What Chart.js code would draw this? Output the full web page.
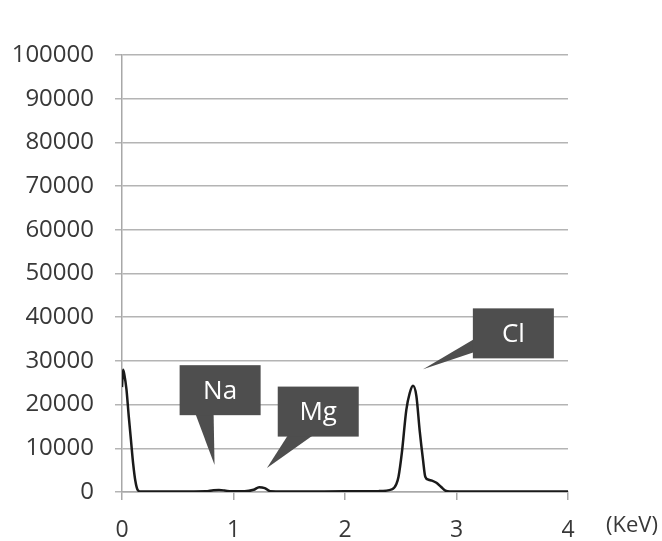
<!DOCTYPE html>
<html>
<head>
<meta charset="utf-8">
<script src="https://cdn.jsdelivr.net/npm/chart.js@4/dist/chart.umd.min.js"></script>
<style>
  body { margin: 0; background: #fff; }
</style>
</head>
<body>
<canvas id="chart-eds" width="662" height="541"></canvas>
<script>
// Spectrum: energy (keV) and counts
const energy = [0, 0.01, 0.02, 0.04, 0.06, 0.08, 0.10, 0.12, 0.14, 0.17, 0.5, 0.75, 0.82, 0.87, 0.92, 0.98, 1.1, 1.18, 1.23, 1.28, 1.33, 1.6, 2.0, 2.3, 2.42, 2.46, 2.48, 2.51, 2.55, 2.58, 2.61, 2.64, 2.67, 2.70, 2.72, 2.75, 2.78, 2.82, 2.86, 2.90, 2.94, 3.0, 3.5, 4.0];
const counts = [24000, 28000, 27000, 23500, 17500, 12000, 6500, 2500, 500, 100, 100, 150, 400, 450, 350, 150, 150, 500, 1100, 900, 200, 100, 150, 200, 600, 1800, 3500, 9000, 18800, 22600, 24300, 22000, 14000, 7300, 3500, 2800, 2600, 2100, 1200, 300, 100, 100, 100, 100];

// Axis ticks
const xTicks = [0, 1, 2, 3, 4];
const yTicks = [0, 10000, 20000, 30000, 40000, 50000, 60000, 70000, 80000, 90000, 100000];

// Peak callouts: label, tip point and box centre in data units
const peakLabels = ["Na", "Mg", "Cl"];
const tipEnergy = [0.83, 1.30, 2.70];
const tipCounts = [6200, 5500, 28100];
const boxEnergy = [0.88, 1.76, 3.51];
const boxCounts = [23300, 18400, 36300];

// Callout styling (tail base side and offsets in px from box corner)
const calloutStyle = [
  { side: "bottom", a: 16, b: 34 },
  { side: "bottom", a: 10, b: 35 },
  { side: "left", a: 31, b: 44 }
];
const BOX_W = 81, BOX_H = 50;
const TEXT_COLOR = "#383838";
const FONT = "'Open Sans', sans-serif";

// --- Plugin for callouts and unit label ---
const calloutPlugin = {
  id: "callouts",
  afterDatasetsDraw(chart) {
    const ctx = chart.ctx;
    const xs = chart.scales.x, ys = chart.scales.y;
    ctx.save();
    peakLabels.forEach((txt, i) => {
      const cx = xs.getPixelForValue(boxEnergy[i]);
      const cy = ys.getPixelForValue(boxCounts[i]);
      const left = cx - BOX_W / 2, top = cy - BOX_H / 2;
      const tx = xs.getPixelForValue(tipEnergy[i]);
      const ty = ys.getPixelForValue(tipCounts[i]);
      const st = calloutStyle[i];
      ctx.fillStyle = "#4e4e4e";
      ctx.beginPath();
      if (st.side === "bottom") {
        ctx.moveTo(left + st.a, top + BOX_H - 1);
        ctx.lineTo(left + st.b, top + BOX_H - 1);
      } else {
        ctx.moveTo(left + 1, top + st.a);
        ctx.lineTo(left + 1, top + st.b);
      }
      ctx.lineTo(tx, ty);
      ctx.closePath();
      ctx.fill();
      ctx.fillRect(left, top, BOX_W, BOX_H);
      ctx.fillStyle = "#ffffff";
      ctx.font = "26px " + FONT;
      ctx.textAlign = "center";
      ctx.textBaseline = "middle";
      ctx.fillText(txt, cx, cy + 1);
    });
    // unit label next to the x axis
    ctx.fillStyle = TEXT_COLOR;
    ctx.font = "22px " + FONT;
    ctx.textAlign = "center";
    ctx.textBaseline = "middle";
    ctx.fillText("(KeV)", xs.getPixelForValue(4) + 64, 526);
    ctx.restore();
  }
};

// --- Render the spectrum ---
const ctx = document.getElementById("chart-eds").getContext("2d");
new Chart(ctx, {
  type: "line",
  data: {
    datasets: [{
      data: energy.map((e, i) => ({ x: e, y: counts[i] })),
      borderColor: "#1a1a1a",
      borderWidth: 2.5,
      pointRadius: 0,
      fill: false,
      cubicInterpolationMode: "monotone"
    }]
  },
  options: {
    responsive: false,
    animation: false,
    layout: { padding: { top: 55, right: 94, left: 0, bottom: 0 } },
    plugins: { legend: { display: false }, tooltip: { enabled: false } },
    scales: {
      x: {
        type: "linear",
        min: 0,
        max: 4,
        afterBuildTicks: s => { s.ticks = xTicks.map(v => ({ value: v })); },
        afterFit: s => { s.height = 49; },
        ticks: { color: TEXT_COLOR, font: { family: FONT, size: 23 }, padding: 17, maxRotation: 0 },
        grid: { drawOnChartArea: false, drawTicks: true, tickLength: 8, color: "#a8a8a8", lineWidth: 1.5 },
        border: { color: "#a8a8a8", width: 1.5 }
      },
      y: {
        min: 0,
        max: 100000,
        afterBuildTicks: s => { s.ticks = yTicks.map(v => ({ value: v })); },
        afterFit: s => { s.width = 122; },
        ticks: { color: TEXT_COLOR, font: { family: FONT, size: 24 }, padding: 21, callback: v => String(v) },
        grid: { color: "#b4b4b4", lineWidth: 1.5, tickLength: 7 },
        border: { color: "#a8a8a8", width: 1.5 }
      }
    }
  },
  plugins: [calloutPlugin]
});
</script>
</body>
</html>
